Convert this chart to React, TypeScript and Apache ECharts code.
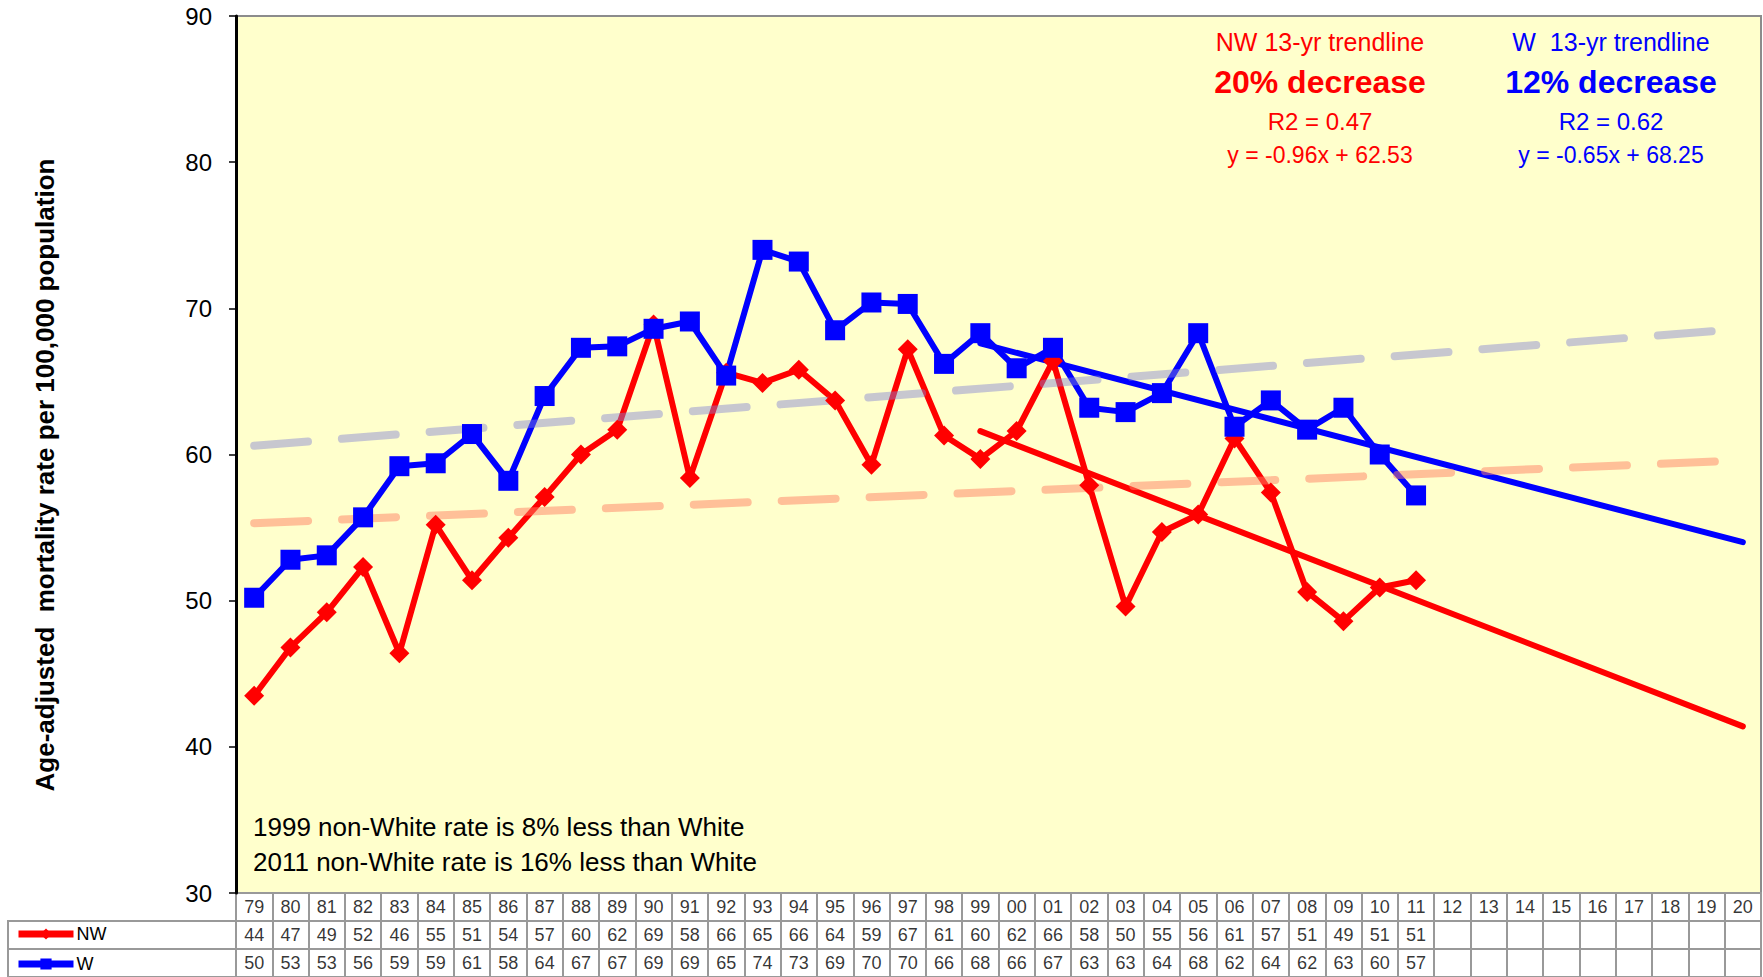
import React, { useEffect, useRef } from 'react';
import * as echarts from 'echarts';

const years = ['79','80','81','82','83','84','85','86','87','88','89','90','91','92','93','94','95','96','97','98','99','00','01','02','03','04','05','06','07','08','09','10','11','12','13','14','15','16','17','18','19','20'];

const nwRates = [43.5, 46.8, 49.2, 52.3, 46.4, 55.2, 51.4, 54.3, 57.1, 60.0, 61.7, 68.9, 58.4, 65.6, 64.9, 65.8, 63.7, 59.3, 67.2, 61.3, 59.7, 61.6, 66.4, 57.9, 49.6, 54.7, 55.9, 61.1, 57.4, 50.6, 48.6, 50.9, 51.4];
const wRates = [50.2, 52.8, 53.1, 55.7, 59.2, 59.4, 61.4, 58.2, 64.0, 67.3, 67.4, 68.6, 69.1, 65.4, 74.0, 73.2, 68.5, 70.4, 70.3, 66.2, 68.3, 65.9, 67.3, 63.2, 62.9, 64.2, 68.3, 61.9, 63.7, 61.7, 63.2, 60.0, 57.2];

// trendline end points
const nwTrend13 = [['99', 61.6], ['20', 41.4]];
const wTrend13 = [['99', 67.6], ['20', 54.0]];
const nwTrendAll = [['79', 55.3], ['20', 59.6]];
const wTrendAll = [['79', 60.6], ['20', 68.6]];

const yTicks = { min: 30, max: 90, step: 10 };
const tableRows = ['W', 'NW', 'yr'];

const FONT = '"Liberation Sans", Arial, Helvetica, sans-serif';

function pad(arr: number[]) {
  return years.map((_, i) => (i < arr.length ? arr[i] : null));
}

function buildOption() {
  const labelSeries = (rowKey: string, texts: (string | null)[]) => ({
    type: 'scatter',
    xAxisIndex: 1,
    yAxisIndex: 1,
    symbol: 'rect',
    symbolSize: 1,
    silent: true,
    itemStyle: { color: 'rgba(0,0,0,0)' },
    label: {
      show: true,
      position: 'inside',
      color: '#000',
      fontSize: 18,
      fontFamily: FONT,
      formatter: (p: any) => p.value[2],
    },
    data: texts
      .map((t, i) => (t === null ? null : [years[i], rowKey, t]))
      .filter((d) => d !== null),
  });

  const textEl = (text: string, x: number, y: number, font: string, fill: string, align = 'center', rotation = 0) => ({
    type: 'text',
    x,
    y,
    rotation,
    silent: true,
    style: {
      text,
      font,
      fill,
      textAlign: align,
      textVerticalAlign: 'middle',
      align,
      verticalAlign: 'middle',
    },
  });

  const red = '#ff0000';
  const blue = '#0000ff';

  return {
    animation: false,
    backgroundColor: '#ffffff',
    grid: [
      { left: 236, right: 2, top: 16, height: 877, show: true, backgroundColor: '#ffffcc', borderColor: '#8c8c8c', borderWidth: 2 },
      { left: 236, right: 2, top: 893, height: 84, show: true, backgroundColor: '#ffffff', borderColor: '#999999', borderWidth: 2 },
      { left: 8, width: 228, top: 921, height: 56, show: true, backgroundColor: '#ffffff', borderColor: '#999999', borderWidth: 2 },
    ],
    xAxis: [
      { gridIndex: 0, type: 'category', data: years, boundaryGap: true, axisLine: { show: false }, axisTick: { show: false }, axisLabel: { show: false }, splitLine: { show: false } },
      { gridIndex: 1, type: 'category', data: years, boundaryGap: true, axisLine: { show: false }, axisTick: { show: false }, axisLabel: { show: false }, splitLine: { show: true, interval: 0, lineStyle: { color: '#999999', width: 2 } } },
      { gridIndex: 2, type: 'category', data: [''], axisLine: { show: false }, axisTick: { show: false }, axisLabel: { show: false }, splitLine: { show: false } },
    ],
    yAxis: [
      {
        gridIndex: 0, type: 'value', min: yTicks.min, max: yTicks.max, interval: yTicks.step,
        axisLine: { show: true, lineStyle: { color: '#000', width: 3 } },
        axisTick: { show: true, length: 7, lineStyle: { color: '#000', width: 1.5 } },
        axisLabel: { fontSize: 24, color: '#000', margin: 24, fontFamily: FONT },
        splitLine: { show: false },
      },
      { gridIndex: 1, type: 'category', data: tableRows, axisLine: { show: false }, axisTick: { show: false }, axisLabel: { show: false }, splitLine: { show: true, interval: 0, lineStyle: { color: '#999999', width: 2 } } },
      { gridIndex: 2, type: 'category', data: ['W', 'NW'], axisLine: { show: false }, axisTick: { show: false }, axisLabel: { show: false }, splitLine: { show: true, interval: 0, lineStyle: { color: '#999999', width: 2 } } },
    ],
    legend: {
      data: ['NW', 'W'],
      orient: 'vertical',
      left: 15,
      top: 925,
      height: 60,
      padding: 0,
      itemWidth: 55,
      itemHeight: 14,
      itemGap: 12,
      textStyle: { fontSize: 18, color: '#000', fontFamily: FONT, padding: [0, 0, 0, -2] },
      lineStyle: { width: 7 },
      selectedMode: false,
    },
    series: [
      {
        name: 'NW', type: 'line', xAxisIndex: 0, yAxisIndex: 0, data: pad(nwRates),
        symbol: 'diamond', symbolSize: 20, showAllSymbol: true,
        lineStyle: { color: red, width: 6 }, itemStyle: { color: red },
      },
      {
        name: 'W', type: 'line', xAxisIndex: 0, yAxisIndex: 0, data: pad(wRates),
        symbol: 'rect', symbolSize: 20, showAllSymbol: true,
        lineStyle: { color: blue, width: 6 }, itemStyle: { color: blue },
      },
      {
        name: 'NW 13-yr trend', type: 'line', xAxisIndex: 0, yAxisIndex: 0, data: nwTrend13,
        symbol: 'none', lineStyle: { color: red, width: 6, cap: 'round' }, itemStyle: { color: red },
      },
      {
        name: 'W 13-yr trend', type: 'line', xAxisIndex: 0, yAxisIndex: 0, data: wTrend13,
        symbol: 'none', lineStyle: { color: blue, width: 6, cap: 'round' }, itemStyle: { color: blue },
      },
      {
        name: 'NW trend', type: 'line', xAxisIndex: 0, yAxisIndex: 0, data: nwTrendAll,
        symbol: 'none', lineStyle: { color: 'rgba(255,130,100,0.5)', width: 8, type: [54, 34], cap: 'round' },
      },
      {
        name: 'W trend', type: 'line', xAxisIndex: 0, yAxisIndex: 0, data: wTrendAll,
        symbol: 'none', lineStyle: { color: 'rgba(130,130,210,0.45)', width: 8, type: [54, 34], cap: 'round' },
      },
      labelSeries('yr', years),
      labelSeries('NW', nwRates.map((v) => String(Math.round(v)))),
      labelSeries('W', wRates.map((v) => String(Math.round(v)))),
    ],
    graphic: [
      textEl('NW 13-yr trendline', 1320, 42, `25px ${FONT}`, red),
      textEl('20% decrease', 1320, 82, `bold 32px ${FONT}`, red),
      textEl('R2 = 0.47', 1320, 121, `24px ${FONT}`, red),
      textEl('y = -0.96x + 62.53', 1320, 155, `23px ${FONT}`, red),
      textEl('W  13-yr trendline', 1611, 42, `25px ${FONT}`, blue),
      textEl('12% decrease', 1611, 82, `bold 32px ${FONT}`, blue),
      textEl('R2 = 0.62', 1611, 121, `24px ${FONT}`, blue),
      textEl('y = -0.65x + 68.25', 1611, 155, `23px ${FONT}`, blue),
      textEl('1999 non-White rate is 8% less than White', 253, 827, `26px ${FONT}`, '#000', 'left'),
      textEl('2011 non-White rate is 16% less than White', 253, 862, `26px ${FONT}`, '#000', 'left'),
      textEl('Age-adjusted  mortality rate per 100,000 population', 45, 475, `bold 26px ${FONT}`, '#000', 'center', Math.PI / 2),
    ],
  };
}

export default function App() {
  const ref = useRef<HTMLDivElement>(null);
  useEffect(() => {
    if (!ref.current) return;
    const chart = echarts.init(ref.current, null, { renderer: 'svg' });
    chart.setOption(buildOption() as any);
    return () => chart.dispose();
  }, []);
  return (
    <div
      ref={ref}
      style={{ position: 'fixed', left: 0, top: 0, width: 1763, height: 977, background: '#ffffff' }}
    />
  );
}
